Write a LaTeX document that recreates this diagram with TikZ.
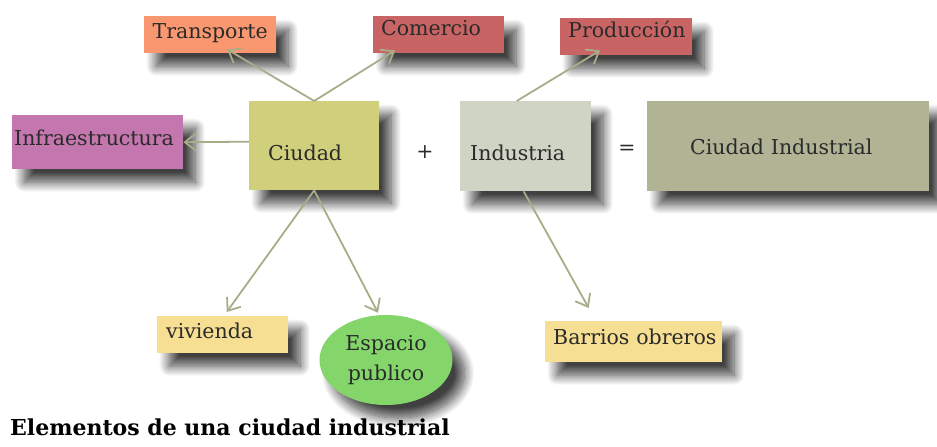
\documentclass[tikz,border=0pt]{standalone}
\usepackage{fontspec}
\setmainfont{DejaVu Serif}
\usetikzlibrary{arrows.meta,shadows.blur,shapes.geometric}
\definecolor{cTrans}{HTML}{F99870}
\definecolor{cCom}{HTML}{C86464}
\definecolor{cInfra}{HTML}{C476AE}
\definecolor{cCiudad}{HTML}{D0D07C}
\definecolor{cInd}{HTML}{D0D4C4}
\definecolor{cCI}{HTML}{B0B394}
\definecolor{cViv}{HTML}{F6DF92}
\definecolor{cEsp}{HTML}{84D66A}
\definecolor{cArrow}{HTML}{A8AC88}
\definecolor{cText}{HTML}{2A2A2A}
\begin{document}
\begin{tikzpicture}[x=1pt,y=-1pt,
  txt/.style={font=\fontsize{20.5}{24}\selectfont, text=cText},
  sh/.style={blur shadow={shadow xshift=12pt, shadow yshift=-13pt, shadow blur radius=10pt, shadow blur steps=16, shadow opacity=75}},
  boxl/.style={txt, sh, rectangle, anchor=north west, inner ysep=0pt, align=left},
  conn/.style={draw=cArrow, line width=1.8pt, -{Straight Barb[length=11pt,width=17pt,line width=1.8pt]}}
]
\useasboundingbox (0,0) rectangle (937,447);

% boxes: position north west corner; width W, height H, left pad p -> text width W-2p
\node[boxl, fill=cTrans, minimum width=132pt, minimum height=37pt, inner xsep=2pt, text width=128pt, align=center, text height=22.5pt, text depth=14.5pt] (trans) at (144,16) {Transporte};
\node[boxl, fill=cCom, minimum width=131pt, minimum height=37pt, inner xsep=8pt, text width=115pt, text height=19pt, text depth=18pt] (com) at (373,16) {Comercio};
\node[boxl, fill=cCom, minimum width=132pt, minimum height=37pt, inner xsep=8pt, text width=116pt, text height=19pt, text depth=18pt] (prod) at (560,18) {Producción};
\node[boxl, fill=cInfra, minimum width=171pt, minimum height=54pt, inner xsep=2pt, text width=167pt, text height=30pt, text depth=24pt] (infra) at (12,115) {Infraestructura};
\node[boxl, fill=cCiudad, minimum width=130pt, minimum height=89pt, inner xsep=19pt, text width=92pt, text height=59pt, text depth=30pt] (ciudad) at (249,101) {Ciudad};
\node[boxl, fill=cInd, minimum width=131pt, minimum height=90pt, inner xsep=10pt, text width=111pt, text height=59pt, text depth=31pt] (ind) at (460,101) {Industria};
\node[boxl, fill=cCI, minimum width=282pt, minimum height=90pt, inner xsep=43pt, text width=196pt, text height=53pt, text depth=37pt] (ci) at (647,101) {Ciudad Industrial};
\node[boxl, fill=cViv, minimum width=131pt, minimum height=37pt, inner xsep=9pt, text width=113pt, text height=22pt, text depth=15pt] (viv) at (157,316) {vivienda};
\node[boxl, fill=cViv, minimum width=177pt, minimum height=41pt, inner xsep=4pt, text width=169pt, text height=23pt, text depth=18pt] (barr) at (545,321) {\hspace*{4pt}\mbox{Barrios obreros}};
\node[txt, sh, ellipse, fill=cEsp, minimum width=133pt, minimum height=90pt, inner sep=0pt, align=center, font=\fontsize{20.5}{30}\selectfont] (esp) at (386,360) {Espacio\\publico};

% operators
\node[txt] (plus) at (425,152) {+};
\node[txt] (eq) at (627,150) {=};

% connectors
\draw[conn] (ciudad.north) -- ([xshift=17pt,yshift=4pt]trans.south);
\draw[conn] (ciudad.north) -- ([xshift=22pt,yshift=3pt]com.south west);
\draw[conn] ([yshift=4pt]ciudad.west) -- (infra.east);
\draw[conn] (ciudad.south) -- ([xshift=4pt,yshift=4pt]viv.north);
\draw[conn] (ciudad.south) -- ([xshift=-8pt,yshift=2pt]esp.north);
\draw[conn] ([xshift=-9pt]ind.north) -- ([xshift=-26pt,yshift=5pt]prod.south);
\draw[conn] ([xshift=-2pt]ind.south) -- ([xshift=-45pt,yshift=13pt]barr.north);

% caption
\node[anchor=base west, inner sep=0pt, font=\fontsize{22}{26}\selectfont\bfseries, text=black] (title) at (10,435) {Elementos de una ciudad industrial};
\end{tikzpicture}
\end{document}
